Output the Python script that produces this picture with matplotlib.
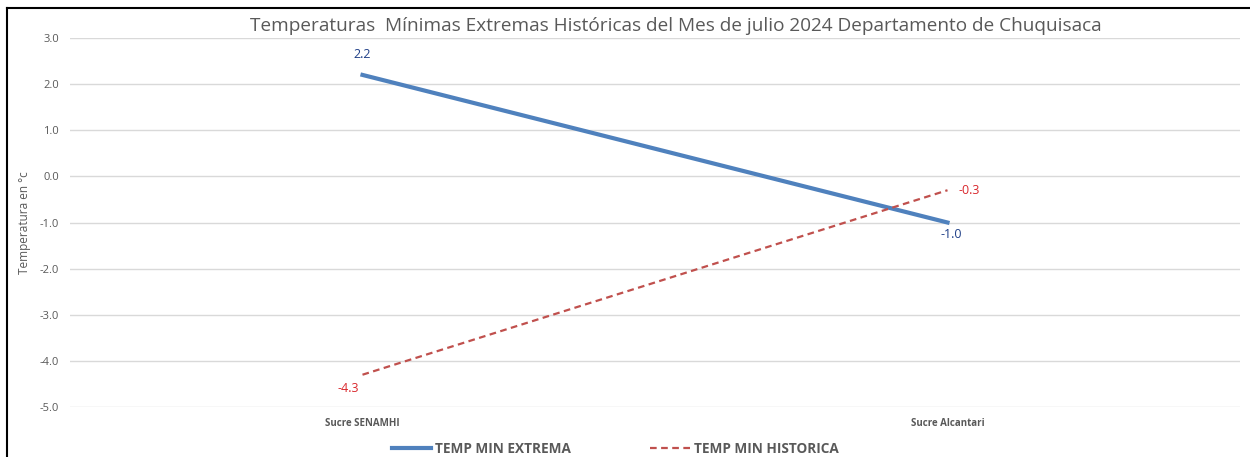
import numpy as np
import matplotlib
matplotlib.use("Agg")
import matplotlib.pyplot as plt
from matplotlib.lines import Line2D

plt.rcParams['font.family'] = ['Open Sans', 'DejaVu Sans']

# Data
stations = ["Sucre SENAMHI", "Sucre Alcantari"]
temp_min_extrema = [2.2, -1.0]
temp_min_historica = [-4.3, -0.3]

gray = '#595959'
blue = '#4f81bd'
red = '#c0504d'

fig = plt.figure(figsize=(12.5, 4.57), dpi=100)
ax = fig.add_axes([0.056, 0.1094, 0.936, 0.8074])

x = np.arange(len(stations))
ax.plot(x, temp_min_extrema, color=blue, lw=3, label='TEMP MIN EXTREMA')
ax.plot(x, temp_min_historica, color=red, lw=1.6, ls=(0, (3, 2)), label='TEMP MIN HISTORICA')

# data labels
ax.annotate(f"{temp_min_extrema[0]:.1f}", (x[0], temp_min_extrema[0]), xytext=(0, 10),
            textcoords='offset points', ha='center', va='bottom', color='#1f3f87', fontsize=9)
ax.annotate(f"{temp_min_extrema[1]:.1f}", (x[1], temp_min_extrema[1]), xytext=(3, -4),
            textcoords='offset points', ha='center', va='top', color='#1f3f87', fontsize=9)
ax.annotate(f"{temp_min_historica[0]:.1f}", (x[0], temp_min_historica[0]), xytext=(-10, -5),
            textcoords='offset points', ha='center', va='top', color='#d9262b', fontsize=9)
ax.annotate(f"{temp_min_historica[1]:.1f}", (x[1], temp_min_historica[1]), xytext=(8, 0),
            textcoords='offset points', ha='left', va='center', color='#d9262b', fontsize=9)

ax.set_xlim(-0.5, 1.5)
ax.set_ylim(-5, 3)
ax.set_yticks(np.arange(-5, 3.1, 1))
ax.yaxis.set_major_formatter(matplotlib.ticker.FormatStrFormatter('%.1f'))
ax.set_xticks(x)
ax.set_xticklabels(stations, fontsize=7, fontweight='bold', color=gray)
ax.tick_params(axis='y', labelsize=8, labelcolor=gray, length=0, pad=8)
ax.tick_params(axis='x', length=0, pad=8)
ax.grid(axis='y', color='#d9d9d9', lw=1)
ax.set_axisbelow(True)
for s in ax.spines.values():
    s.set_visible(False)

ax.set_ylabel('Temperatura en °c', fontsize=8.5, color=gray, labelpad=6)
fig.text(0.541, 0.943, 'Temperaturas  Mínimas Extremas Históricas del Mes de julio 2024 Departamento de Chuquisaca',
         ha='center', va='center', fontsize=13.7, color=gray)

leg = fig.legend(loc='center', bbox_to_anchor=(0.492, 0.017), ncol=2, frameon=False,
                 fontsize=9.8, handlelength=2.9, columnspacing=5.8, handletextpad=0.3)
for t in leg.get_texts():
    t.set_color(gray)
    t.set_fontweight('bold')

# outer border (left and top)
fig.add_artist(Line2D([0.0056, 0.0056], [0, 0.9825], color='black', lw=1.5, transform=fig.transFigure))
fig.add_artist(Line2D([0.0056, 1], [0.9825, 0.9825], color='black', lw=1.5, transform=fig.transFigure))

fig.savefig('out.png', dpi=100)
